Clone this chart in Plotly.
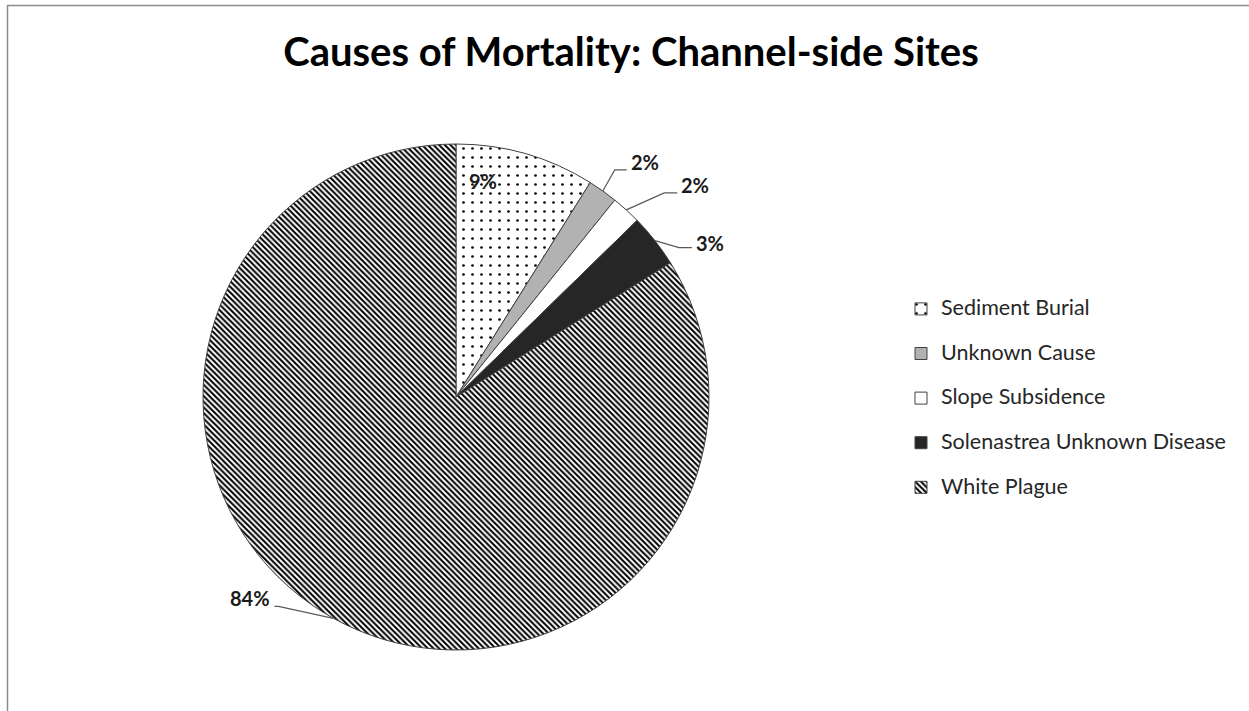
import math
import plotly.graph_objects as go

# ---- data ----
categories = ["Sediment Burial", "Unknown Cause", "Slope Subsidence",
              "Solenastrea Unknown Disease", "White Plague"]
values = [8.9, 1.9, 1.9, 3.4, 83.9]
title_text = "Causes of Mortality: Channel-side Sites"

# ---- styles ----
slice_colors = ["white", "#b2b2b2", "white", "#262626", "white"]
pattern_shapes = [".", "", "", "", "\\"]
pattern_sizes = [9, 8, 8, 8, 4]
pattern_solidity = [0.07, 0.3, 0.3, 0.3, 0.5]

W, H = 1249, 711
CX, CY, R = 456, 397, 253  # pie centre / radius in px

# label placement styles: (elbow dx, elbow dy, horizontal run, leader?, yshift)
label_styles = [
    (-43, 27, 0, False, 0),
    (12, -21, 12, True, 8),
    (38, -17, 13, True, 8),
    (24, 7, 13, True, 5),
    (-55, -12, -4, True, 8),
]

total = sum(values)
pct_text = [f"{round(v / total * 100)}%" for v in values]
legend_labels = [f"<span style='font-size:21.5px'>{c}</span><br> " for c in categories]

fig = go.Figure()
fig.add_trace(go.Pie(
    labels=legend_labels,
    values=values,
    sort=False,
    direction="clockwise",
    rotation=0,
    textinfo="none",
    hoverinfo="skip",
    marker=dict(
        colors=slice_colors,
        line=dict(color="#404040", width=1),
        pattern=dict(shape=pattern_shapes, fgcolor="black",
                     size=pattern_sizes, solidity=pattern_solidity),
    ),
    domain=dict(x=[(CX - R) / W, (CX + R) / W],
                y=[1 - (CY + R) / H, 1 - (CY - R) / H]),
))


def px_to_paper(x, y):
    return x / W, 1 - y / H


label_font = dict(family="Lato", size=20, color="#1a1a1a", weight="bold")
shapes = []
annotations = []
cum = 0.0
for i, v in enumerate(values):
    mid = (cum + v / 2) / total * 2 * math.pi
    cum += v
    px = CX + R * math.sin(mid)
    py = CY - R * math.cos(mid)
    dx, dy, run, leader, ysh = label_styles[i]
    ex, ey = px + dx, py + dy
    if leader:
        lx = ex + run
        p0 = px_to_paper(px, py)
        p1 = px_to_paper(ex, ey)
        p2 = px_to_paper(lx, ey)
        shapes.append(dict(
            type="path", xref="paper", yref="paper",
            path=f"M{p0[0]},{p0[1]} L{p1[0]},{p1[1]} L{p2[0]},{p2[1]}",
            line=dict(color="#595959", width=1.2)))
        tx, ty = px_to_paper(lx + (2 if run >= 0 else -2), ey)
        annotations.append(dict(
            x=tx, y=ty, xref="paper", yref="paper", text=pct_text[i],
            showarrow=False, xanchor="left" if run >= 0 else "right",
            yanchor="middle", yshift=ysh, font=label_font))
    else:
        tx, ty = px_to_paper(ex, ey)
        annotations.append(dict(
            x=tx, y=ty, xref="paper", yref="paper", text=pct_text[i],
            showarrow=False, xanchor="center", yanchor="middle",
            font=label_font))

# chart area border
shapes.append(dict(type="rect", xref="paper", yref="paper",
                   x0=7.5 / W, x1=1.02, y0=-0.02, y1=1 - 5.5 / H,
                   line=dict(color="#8c8c8c", width=1.5), layer="below"))

fig.update_layout(
    width=W, height=H,
    margin=dict(l=0, r=0, t=0, b=0),
    paper_bgcolor="white",
    plot_bgcolor="white",
    title=dict(text=title_text, x=631 / W, xanchor="center",
               y=1 - 52 / H, yanchor="middle", yref="container",
               font=dict(family="Lato", size=40, color="black", weight="bold")),
    legend=dict(x=901 / W, xanchor="left", y=1 - 292 / H, yanchor="top",
                valign="top",
                font=dict(family="Lato", size=16, color="#262626"),
                bgcolor="rgba(0,0,0,0)"),
    shapes=shapes,
    annotations=annotations,
)

fig.write_html("out.html", config={"displayModeBar": False},
               post_script="document.body.style.margin='0';document.body.style.padding='0';")
